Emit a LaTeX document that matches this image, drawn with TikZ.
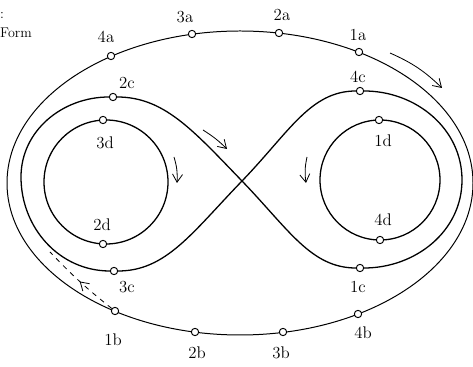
\documentclass[tikz,border=0pt]{standalone}
\usetikzlibrary{arrows.meta,decorations.markings}
\begin{document}
\begin{tikzpicture}[x=0.03cm,y=0.03cm,
	station/.style={circle,draw,fill=white,inner sep=0pt,minimum size=2.2mm,line width=0.8pt},
	lbl/.style={font=\Large,inner sep=0pt},
	track/.style={line width=1.1pt},
	runarrow/.style={line width=0.7pt,-{Straight Barb[length=2.4mm,width=3mm]}}]
	\useasboundingbox (0,0) rectangle (473,367);
		\node[lbl,font=\large,anchor=west] (colon) at (0,352) {:};
		\node[lbl,font=\large,anchor=west] (form) at (0,334) {Form};
		\coordinate (O) at (240,184);
		\draw[line width=0.85pt] (O) ellipse [x radius=233,y radius=152];
		\draw[track] (106,185) circle [radius=62];
		\draw[track] (380,187) circle [radius=60];
		\node[station] (4a) at (111,311) {};
		\node[station] (3a) at (192,333) {};
		\node[station] (2a) at (279,334) {};
		\node[station] (1a) at (359,315) {};
		\node[station] (1b) at (115,56) {};
		\node[station] (2b) at (195,35) {};
		\node[station] (3b) at (283,35) {};
		\node[station] (4b) at (358,53) {};
		\node[station] (3d) at (103,247) {};
		\node[station] (2d) at (103,123) {};
		\node[station] (1d) at (379,247) {};
		\node[station] (4d) at (380,127) {};
		\node[station] (2c) at (113,270) {};
		\node[station] (3c) at (114,96) {};
		\node[station] (4c) at (360,276) {};
		\node[station] (1c) at (360,99) {};
		\coordinate (X) at (242,186);
		\coordinate (L) at (21,190);
		\coordinate (R) at (462,187);
		\draw[track] (X) to[out=134,in=0,out looseness=1.2,in looseness=0.8] (2c) to[out=180,in=90] (L) to[out=270,in=180] (3c) to[out=0,in=226,out looseness=0.8,in looseness=1.2] (X);
		\draw[track] (X) to[out=46,in=180,out looseness=1.2,in looseness=0.8] (4c) to[out=0,in=90] (R) to[out=270,in=0] (1c) to[out=180,in=314,out looseness=0.8,in looseness=1.2] (X);
		\node[lbl] (l4a) at (106,330) {4a};
		\node[lbl] (l3a) at (185,350) {3a};
		\node[lbl] (l2a) at (282,352) {2a};
		\node[lbl] (l1a) at (358,332) {1a};
		\node[lbl] (l4c) at (358,290) {4c};
		\node[lbl] (l2c) at (127,284) {2c};
		\node[lbl] (l3d) at (105,224) {3d};
		\node[lbl] (l1d) at (383,226) {1d};
		\node[lbl] (l2d) at (102,142) {2d};
		\node[lbl] (l4d) at (383,147) {4d};
		\node[lbl] (l3c) at (127,80) {3c};
		\node[lbl] (l1c) at (358,80) {1c};
		\node[lbl] (l1b) at (113,27) {1b};
		\node[lbl] (l2b) at (197,14) {2b};
		\node[lbl] (l3b) at (281,14) {3b};
		\node[lbl] (l4b) at (363,34) {4b};
		\coordinate (a1s) at (390,314);
		\coordinate (a1e) at (442,279);
		\draw[runarrow] (a1s) to[bend left=10] (a1e);
		\coordinate (a2s) at (203,237);
		\coordinate (a2e) at (227,218);
		\draw[runarrow] (a2s) to[bend left=6] (a2e);
		\coordinate (a3s) at (174,210);
		\coordinate (a3e) at (177,184);
		\draw[runarrow] (a3s) to[bend left=10] (a3e);
		\coordinate (a4s) at (307,210);
		\coordinate (a4e) at (306,184);
		\draw[runarrow] (a4s) to[bend right=10] (a4e);
		\coordinate (dashend) at (50,115);
		\draw[line width=0.7pt,dash pattern=on 1.5mm off 1.5mm,postaction={decorate},
			decoration={markings,mark=at position 0.5 with {\arrow{Straight Barb[length=2.4mm,width=3mm]}}}]
			(1b) to[bend left=4] (dashend);
	\end{tikzpicture}
\end{document}
